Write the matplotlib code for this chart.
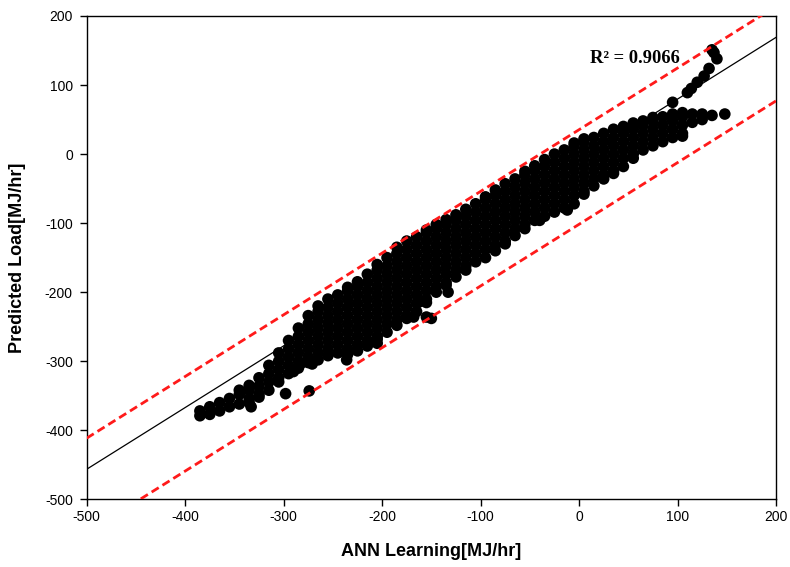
import numpy as np
import matplotlib
matplotlib.use("Agg")
import matplotlib.pyplot as plt

plt.rcParams['axes.unicode_minus'] = False

# --- data ---
# dense cloud, written column by column (x value, then its y values)
cloud_cols = [
    (-385, [-379, -372]),
    (-375, [-377, -366]),
    (-365, [-372, -360]),
    (-355, [-366, -354]),
    (-345, [-362, -348, -342]),
    (-335, [-360, -354, -342, -335]),
    (-325, [-352, -348, -336, -324]),
    (-315, [-342, -330, -318, -306]),
    (-305, [-330, -324, -312, -300, -288]),
    (-295, [-318, -306, -294, -282, -270]),
    (-285, [-310, -300, -288, -276, -264, -252]),
    (-275, [-302, -294, -282, -270, -258, -246, -234]),
    (-265, [-298, -288, -276, -264, -252, -240, -228, -220]),
    (-255, [-292, -282, -270, -258, -246, -234, -222, -210]),
    (-245, [-288, -276, -264, -252, -240, -228, -216, -204]),
    (-235, [-290, -282, -270, -258, -246, -234, -222, -210, -198, -193]),
    (-225, [-285, -276, -264, -252, -240, -228, -216, -204, -192, -185]),
    (-215, [-278, -270, -258, -246, -234, -222, -210, -198, -186, -174]),
    (-205, [-268, -264, -252, -240, -228, -216, -204, -192, -180, -168, -160]),
    (-195, [-258, -246, -234, -222, -210, -198, -186, -174, -162, -150]),
    (-185, [-248, -240, -228, -216, -204, -192, -180, -168, -156, -144, -135]),
    (-175, [-238, -234, -222, -210, -198, -186, -174, -162, -150, -138, -126]),
    (-165, [-228, -216, -204, -192, -180, -168, -156, -144, -132, -120]),
    (-155, [-215, -210, -198, -186, -174, -162, -150, -138, -126, -114, -110]),
    (-145, [-200, -192, -180, -168, -156, -144, -132, -120, -108, -102]),
    (-135, [-190, -186, -174, -162, -150, -138, -126, -114, -102, -95]),
    (-125, [-178, -168, -156, -144, -132, -120, -108, -96, -88]),
    (-115, [-168, -162, -150, -138, -126, -114, -102, -90, -80]),
    (-105, [-156, -144, -132, -120, -108, -96, -84, -72]),
    (-95, [-150, -138, -126, -114, -102, -90, -78, -66, -62]),
    (-85, [-140, -132, -120, -108, -96, -84, -72, -60, -52]),
    (-75, [-130, -126, -114, -102, -90, -78, -66, -54, -43]),
    (-65, [-118, -108, -96, -84, -72, -60, -48, -36]),
    (-55, [-108, -102, -90, -78, -66, -54, -42, -30, -25]),
    (-45, [-96, -84, -72, -60, -48, -36, -24, -17]),
    (-35, [-90, -78, -66, -54, -42, -30, -18, -8]),
    (-25, [-84, -72, -60, -48, -36, -24, -12, 0]),
    (-15, [-78, -66, -54, -42, -30, -18, -6, 6]),
    (-5, [-72, -60, -48, -36, -24, -12, 0, 12, 16]),
    (5, [-58, -54, -42, -30, -18, -6, 6, 18, 22]),
    (15, [-46, -36, -24, -12, 0, 12, 24]),
    (25, [-36, -30, -18, -6, 6, 18, 30]),
    (35, [-28, -24, -12, 0, 12, 24, 36]),
    (45, [-18, -6, 6, 18, 30, 40]),
    (55, [-6, 0, 12, 24, 36, 45]),
    (65, [6, 18, 30, 42, 48]),
    (75, [12, 24, 36, 48, 53]),
    (85, [18, 30, 42, 54]),
    (95, [24, 36, 48, 58]),
    (105, [26, 30, 42, 54, 60]),
    (115, [46, 58]),
    (125, [50, 58]),
    (135, [56]),
    (148, [58]),
]

# points that sit along the fit line at the top right
line_pts_x = [95, 110, 114, 120, 127, 132, 140, 137, 135]
line_pts_y = [75, 89, 95, 104, 113, 124, 138, 147, 151]

# scattered points below the main cloud
out_x = [-333, -298, -274, -290, -283, -271, -150, -155, -168, -133, -162, -205, -236, -12, -40]
out_y = [-366, -347, -343, -315, -304, -304, -238, -236, -236, -200, -214, -274, -298, -81, -96]

# regression line and error band
fit_slope = 0.8936
fit_intercept = -9.7
band_upper = 45
band_lower = -92
r2_text = "R² = 0.9066"

xs = []
ys = []
for cx, col in cloud_cols:
    for cy in col:
        xs.append(cx)
        ys.append(cy)
xs = xs + line_pts_x + out_x
ys = ys + line_pts_y + out_y

fig = plt.figure(figsize=(7.9, 5.67), dpi=100)
ax = fig.add_axes([0.1097, 0.1194, 0.8726, 0.8524])

ax.scatter(xs, ys, s=70, c="black", edgecolors="none", zorder=3)

xl = np.array([-500, 200])
ax.plot(xl, fit_slope * xl + fit_intercept, color="black", lw=0.9, zorder=2)
ax.plot(xl, fit_slope * xl + fit_intercept + band_upper, color="#ff1a1a",
        lw=2, ls=(0, (3, 1.6)), zorder=4)
ax.plot(xl, fit_slope * xl + fit_intercept + band_lower, color="#ff1a1a",
        lw=2, ls=(0, (3, 1.6)), zorder=4)

ax.text(11, 139, r2_text, family="Liberation Serif", fontweight="bold",
        fontsize=13.3, va="center", ha="left")

ax.set_xlim(-500, 200)
ax.set_ylim(-500, 200)
ax.set_xticks(range(-500, 201, 100))
ax.set_yticks(range(-500, 201, 100))
ax.tick_params(direction="out", length=5, width=1, labelsize=10, top=False, right=False)
ax.tick_params(axis="y", pad=5)
ax.tick_params(axis="x", pad=3)
for lab in ax.get_xticklabels() + ax.get_yticklabels():
    lab.set_family("Liberation Sans")
for sp in ax.spines.values():
    sp.set_linewidth(1)

ax.set_xlabel("ANN Learning[MJ/hr]", family="Liberation Sans", fontweight="bold",
              fontsize=13)
ax.set_ylabel("Predicted Load[MJ/hr]", family="Liberation Sans", fontweight="bold",
              fontsize=13)
ax.xaxis.set_label_coords(0.5, -0.0904)
ax.yaxis.set_label_coords(-0.088, 0.5)

fig.savefig("out.png", dpi=100)
